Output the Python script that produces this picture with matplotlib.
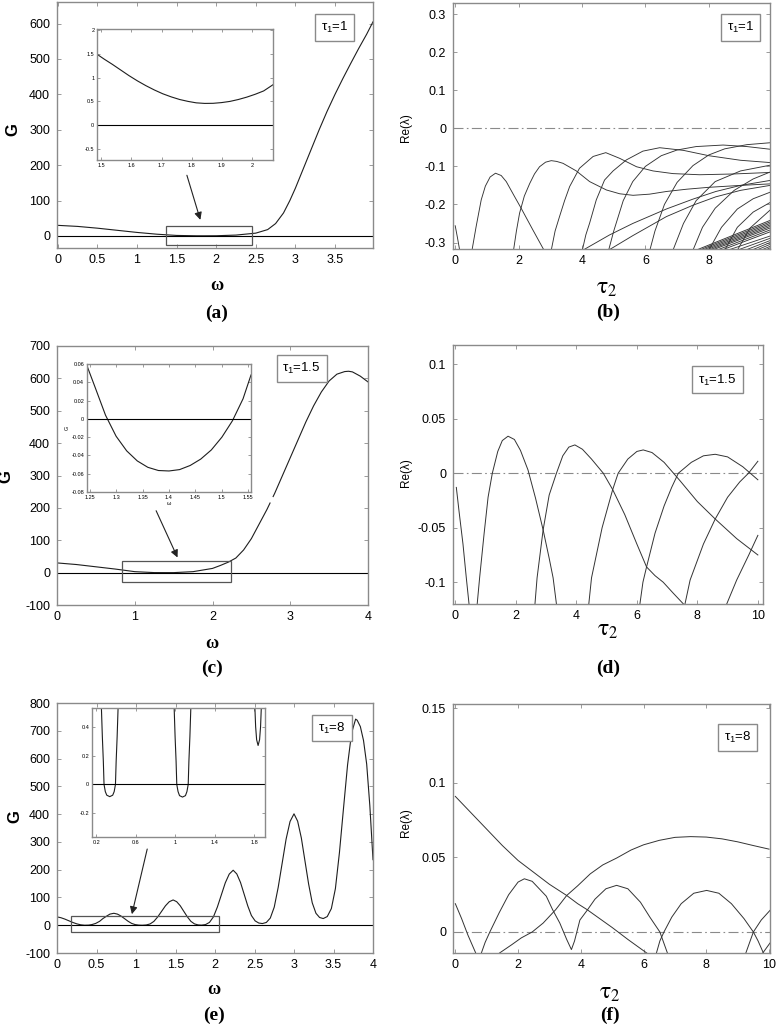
import numpy as np
import matplotlib.pyplot as plt
from matplotlib.patches import Rectangle
from matplotlib.ticker import FuncFormatter

plt.rcParams['font.family'] = ['Liberation Sans', 'DejaVu Sans']
plt.rcParams['axes.unicode_minus'] = False
plt.rcParams['mathtext.fontset'] = 'custom'
plt.rcParams['mathtext.rm'] = 'Liberation Sans'
plt.rcParams['mathtext.it'] = 'Liberation Sans:italic'

W, H = 777, 1030

# ---------------- data ----------------
# (a) tau1 = 1
a_w = [0, 0.25, 0.5, 0.75, 1.0, 1.25, 1.5, 1.75, 1.85, 2.0, 2.25, 2.5, 2.65, 2.75, 2.85,
       2.93, 3.0, 3.1, 3.2, 3.3, 3.4, 3.5, 3.6, 3.7, 3.8, 3.9, 3.98]
a_G = [30, 27, 22, 16, 10, 5, 1.5, 0.5, 0.46, 0.6, 2.5, 8, 18, 35, 65,
       100, 135, 190, 245, 300, 352, 400, 445, 488, 530, 570, 605]
ia_w = [1.4855, 1.51, 1.536, 1.564, 1.592, 1.62, 1.648, 1.676, 1.704, 1.732, 1.760, 1.788,
        1.815, 1.843, 1.871, 1.899, 1.927, 1.955, 1.983, 2.011, 2.039, 2.070]
ia_G = [1.49, 1.385, 1.28, 1.16, 1.04, 0.93, 0.83, 0.74, 0.66, 0.595, 0.54, 0.50,
        0.47, 0.458, 0.46, 0.475, 0.50, 0.54, 0.59, 0.65, 0.72, 0.85]

# (c) tau1 = 1.5
c_w = [0, 0.25, 0.5, 0.75, 1.0, 1.25, 1.5, 1.75, 2.0, 2.1, 2.2, 2.3, 2.4, 2.5, 2.6, 2.7,
       2.74, np.nan, 2.78, 2.8, 2.9, 3.0, 3.1, 3.2, 3.3, 3.4, 3.5, 3.6, 3.7, 3.75, 3.8, 3.9, 4.0]
c_G = [30, 25, 18, 11, 3, 0.1, 0.0, 3, 13, 22, 32, 45, 70, 105, 150, 195,
       215, np.nan, 235, 245, 300, 355, 410, 465, 515, 558, 592, 613, 621, 622, 620, 607, 589]
ic_w = [1.245, 1.26, 1.28, 1.30, 1.32, 1.34, 1.36, 1.38, 1.40, 1.42, 1.44, 1.46, 1.48,
        1.50, 1.52, 1.54, 1.555]
ic_G = [0.058, 0.035, 0.004, -0.019, -0.035, -0.046, -0.053, -0.0565, -0.057, -0.0555,
        -0.051, -0.044, -0.034, -0.020, -0.002, 0.022, 0.048]

# (e) tau1 = 8
e_w = [0, 0.05, 0.1, 0.15, 0.2, 0.25, 0.3, 0.35,
       0.40, 0.44, 0.49, 0.54, 0.58, 0.63, 0.67, 0.72,
       0.765, 0.81, 0.855, 0.90, 0.945, 0.99, 1.035, 1.08,
       1.129, 1.178, 1.226, 1.275, 1.324, 1.373, 1.421, 1.47,
       1.515, 1.56, 1.605, 1.65, 1.695, 1.74, 1.785, 1.83,
       1.88, 1.93, 1.98, 2.03, 2.08, 2.13, 2.18, 2.23,
       2.276, 2.323, 2.369, 2.415, 2.461, 2.508, 2.554, 2.60,
       2.65, 2.70, 2.75, 2.80, 2.85, 2.90, 2.95, 3.00,
       3.046, 3.093, 3.139, 3.185, 3.231, 3.278, 3.324, 3.37,
       3.421, 3.473, 3.524, 3.575, 3.626, 3.678, 3.729, 3.78,
       3.80, 3.84, 3.88, 3.92, 3.96, 4.0]
e_G = [30, 27, 22, 16, 10, 5, 1.5, 0,
       0.4, 2.2, 6.5, 14.2, 23.7, 33.1, 40, 43,
       40, 33.1, 23.7, 14.2, 6.5, 2.2, 0.4, 0,
       0.9, 4.6, 13.7, 30, 50, 70, 84.6, 91,
       84.7, 70.1, 50.0, 30.2, 13.9, 4.8, 1.2, 0.3,
       2.3, 10.2, 30, 65.5, 109, 152.5, 184, 198,
       184.6, 153.8, 111.6, 69.4, 34.8, 15.6, 7.9, 6,
       10, 25.8, 65.3, 136.4, 223, 310, 373.4, 401,
       374.6, 314, 231, 148.4, 80.6, 42.9, 27.8, 24,
       31.2, 60, 131.7, 261, 419, 577, 691.7, 742,
       738, 715, 665, 580, 430, 236]
ie_dips = [
    ([0.245, 0.25, 0.26, 0.27, 0.277, 0.29, 0.305, 0.335, 0.365, 0.38, 0.393, 0.40, 0.41, 0.42, 0.425],
     [0.65, 0.54, 0.33, 0.16, 0.0, -0.05, -0.075, -0.085, -0.075, -0.05, 0.0, 0.16, 0.33, 0.54, 0.65]),
    ([0.983, 0.988, 0.998, 1.008, 1.015, 1.028, 1.043, 1.073, 1.103, 1.118, 1.131, 1.138, 1.148, 1.158, 1.163],
     [0.65, 0.54, 0.33, 0.16, 0.0, -0.05, -0.078, -0.088, -0.078, -0.05, 0.0, 0.16, 0.33, 0.54, 0.65]),
    ([1.80, 1.807, 1.815, 1.825, 1.84, 1.855, 1.865, 1.873, 1.88],
     [0.65, 0.54, 0.40, 0.31, 0.27, 0.31, 0.40, 0.54, 0.65]),
]

# (b) Re(lambda) vs tau2, tau1 = 1
b_curves = [
    [(0.0, -0.256), (0.07, -0.287), (0.14, -0.32)],
    [(0.53, -0.32), (0.66, -0.258), (0.82, -0.188), (0.95, -0.152), (1.10, -0.128), (1.27, -0.118),
     (1.45, -0.124), (1.61, -0.14), (1.87, -0.179), (2.08, -0.21), (2.45, -0.267), (2.8, -0.32)],
    [(1.84, -0.32), (1.93, -0.27), (2.03, -0.223), (2.18, -0.178), (2.35, -0.145), (2.5, -0.12),
     (2.66, -0.101), (2.85, -0.089), (3.03, -0.085), (3.2, -0.087), (3.4, -0.092), (3.82, -0.112),
     (4.24, -0.14), (4.77, -0.162), (5.19, -0.172), (5.61, -0.176), (6.13, -0.173), (6.66, -0.166),
     (7.3, -0.16), (8.0, -0.155), (9.0, -0.15), (9.93, -0.146)],
    [(3.03, -0.32), (3.15, -0.27), (3.29, -0.232), (3.45, -0.19), (3.61, -0.153), (3.92, -0.105),
     (4.35, -0.074), (4.75, -0.064), (5.19, -0.079), (5.72, -0.101), (6.24, -0.112), (6.87, -0.119),
     (7.71, -0.122), (8.77, -0.12), (9.93, -0.116)],
    [(4.01, -0.32), (4.12, -0.28), (4.24, -0.249), (4.45, -0.188), (4.71, -0.136), (4.98, -0.112),
     (5.4, -0.083), (5.92, -0.06), (6.45, -0.051), (7.2, -0.058), (8.0, -0.072), (9.0, -0.084),
     (9.93, -0.09)],
    [(4.84, -0.32), (5.0, -0.27), (5.3, -0.19), (5.6, -0.14), (6.0, -0.1), (6.5, -0.072), (7.0, -0.057),
     (7.6, -0.048), (8.45, -0.044), (9.2, -0.048), (9.93, -0.055)],
    [(6.14, -0.32), (6.3, -0.27), (6.6, -0.2), (7.0, -0.142), (7.5, -0.098), (8.0, -0.07), (8.5, -0.054),
     (9.2, -0.043), (9.93, -0.038)],
    [(6.87, -0.32), (7.2, -0.25), (7.6, -0.19), (8.2, -0.14), (9.0, -0.112), (9.93, -0.097)],
    [(7.5, -0.32), (7.8, -0.26), (8.2, -0.21), (8.8, -0.163), (9.4, -0.133), (9.93, -0.115)],
    [(8.0, -0.32), (8.4, -0.26), (8.9, -0.212), (9.4, -0.185), (9.93, -0.168)],
    [(8.5, -0.32), (8.9, -0.26), (9.4, -0.22), (9.93, -0.195)],
    [(8.9, -0.32), (9.3, -0.262), (9.93, -0.215)],
    [(4.03, -0.32), (4.87, -0.28), (5.6, -0.25), (6.66, -0.212), (7.5, -0.186), (8.22, -0.166),
     (9.0, -0.15), (9.93, -0.137)],
    [(4.84, -0.32), (5.6, -0.282), (6.66, -0.232), (7.5, -0.202), (8.22, -0.18), (9.0, -0.163),
     (9.93, -0.15)],
]
b_band_start = [7.6, 7.7, 7.8, 7.9, 8.0, 8.1, 8.25, 8.4]
b_band_end = [-0.242, -0.246, -0.250, -0.254, -0.258, -0.262, -0.267, -0.272]
b_fan_start = [8.6, 8.9, 9.15, 9.35, 9.5, 9.65, 9.78]
b_fan_end = [-0.283, -0.289, -0.295, -0.300, -0.305, -0.310, -0.314]

# (d) tau1 = 1.5
d_curves = [
    [(0.03, -0.013), (0.12, -0.035), (0.25, -0.065), (0.36, -0.096), (0.45, -0.12)],
    [(0.72, -0.12), (0.80, -0.096), (0.95, -0.055), (1.08, -0.022), (1.22, 0.0), (1.4, 0.02),
     (1.55, 0.030), (1.74, 0.034), (1.95, 0.031), (2.15, 0.021), (2.4, 0.003), (2.65, -0.023),
     (2.9, -0.052), (3.1, -0.078), (3.23, -0.096), (3.34, -0.12)],
    [(2.63, -0.12), (2.70, -0.096), (2.9, -0.052), (3.1, -0.02), (3.34, 0.0), (3.55, 0.016),
     (3.75, 0.024), (3.95, 0.026), (4.2, 0.022), (4.5, 0.013), (4.89, 0.0), (5.2, -0.015),
     (5.6, -0.038), (6.0, -0.065), (6.32, -0.086), (6.6, -0.094), (6.87, -0.1), (7.2, -0.11),
     (7.54, -0.12)],
    [(4.41, -0.12), (4.5, -0.096), (4.85, -0.05), (5.2, -0.015), (5.38, 0.0), (5.7, 0.013),
     (6.0, 0.02), (6.21, 0.0214), (6.5, 0.019), (6.9, 0.01), (7.43, -0.007), (8.0, -0.026),
     (8.59, -0.042), (9.3, -0.06), (10.0, -0.075)],
    [(6.1, -0.12), (6.2, -0.1), (6.32, -0.086), (6.6, -0.055), (6.9, -0.03), (7.15, -0.013),
     (7.37, 0.0), (7.8, 0.01), (8.2, 0.016), (8.59, 0.0174), (9.0, 0.015), (9.5, 0.006), (10.0, -0.006)],
    [(7.59, -0.12), (7.76, -0.098), (8.2, -0.065), (8.59, -0.042), (9.0, -0.022), (9.4, -0.008),
     (9.69, 0.0), (10.0, 0.011)],
    [(8.97, -0.12), (9.3, -0.098), (9.7, -0.075), (10.0, -0.057)],
]

# (f) tau1 = 8
f_curves = [
    [(0.0, 0.091), (0.5, 0.08), (1.0, 0.069), (1.5, 0.058), (2.0, 0.048), (2.5, 0.04), (3.0, 0.032),
     (3.55, 0.0245), (3.9, 0.019), (4.2, 0.015), (4.6, 0.009), (5.0, 0.003), (5.5, -0.005), (6.1, -0.0141)],
    [(1.41, -0.0141), (1.8, -0.0085), (2.1, -0.004), (2.45, 0.0), (2.8, 0.006), (3.2, 0.015),
     (3.55, 0.0245), (3.9, 0.031), (4.3, 0.039), (4.7, 0.045), (5.14, 0.0496), (5.6, 0.055),
     (6.0, 0.0585), (6.5, 0.0615), (7.0, 0.0635), (7.5, 0.064), (8.0, 0.0637), (8.5, 0.0625),
     (9.0, 0.0605), (9.5, 0.058), (10.0, 0.0556)],
    [(0.0, 0.019), (0.2, 0.009), (0.4, -0.002), (0.65, -0.0141)],
    [(0.83, -0.0141), (0.95, -0.007), (1.1, 0.0), (1.4, 0.013), (1.7, 0.025), (2.0, 0.0335),
     (2.2, 0.0357), (2.45, 0.034), (2.9, 0.024), (3.1, 0.015), (3.33, 0.006), (3.55, -0.005),
     (3.7, -0.0118), (3.8, -0.006), (3.97, 0.008), (4.2, 0.0145), (4.45, 0.022), (4.8, 0.029),
     (5.14, 0.0313), (5.5, 0.029), (5.9, 0.02), (6.2, 0.01), (6.52, 0.0), (6.76, -0.0141)],
    [(6.41, -0.0141), (6.52, -0.006), (6.65, 0.0), (6.9, 0.01), (7.2, 0.019), (7.6, 0.026),
     (8.01, 0.0279), (8.4, 0.026), (8.8, 0.019), (9.2, 0.009), (9.5, 0.0), (9.65, -0.006), (9.82, -0.0141)],
    [(9.26, -0.0141), (9.5, 0.0), (9.75, 0.008), (10.03, 0.0145)],
    [(9.8, -0.0141), (10.03, -0.0074)],
]

# annotation geometry (data coords): zoom box and arrow (start, end)
a_box = (1.36, -25, 1.09, 54)
a_arrow = ((1.62, 179), (1.81, 38))
c_box = (0.83, -30, 1.41, 66)
c_arrow = ((1.26, 199), (1.565, 39))
e_box = (0.18, -24, 1.87, 56)
e_arrow = ((1.15, 284), (0.94, 30))

FRAME = '#8a8a8a'
LINE = '#1e1e1e'
fmt = FuncFormatter(lambda v, p: f'{v:g}')

fig = plt.figure(figsize=(W / 100, H / 100), dpi=100)


def px_axes(l, t, r, b):
    return fig.add_axes([l / W, 1 - b / H, (r - l) / W, (b - t) / H])


def style(ax, size=9, length=3, xpad=4, ypad=5):
    for s in ax.spines.values():
        s.set_color(FRAME)
        s.set_linewidth(1.0)
    ax.tick_params(direction='in', top=True, right=True, length=length, width=0.6,
                   color=FRAME, labelsize=size)
    ax.tick_params(axis='x', pad=xpad)
    ax.tick_params(axis='y', pad=ypad)
    ax.xaxis.set_major_formatter(fmt)
    ax.yaxis.set_major_formatter(fmt)


def tau_box(ax, x, y, val):
    ax.text(x, y, r'$\mathregular{\tau_1}$=' + val, transform=ax.transAxes, ha='center',
            va='center', fontsize=9.5, zorder=5,
            bbox=dict(boxstyle='square,pad=0.45', fc='white', ec=FRAME, lw=1.0))


def ftext(x, y, s, **kw):
    fig.text(x / W, 1 - y / H, s, ha='center', va='center', **kw)


def omega_lab(x, y):
    ftext(x, y, 'ω', family='Liberation Serif', fontweight='bold', fontsize=13)


def tau2_lab(x, y):
    ftext(x, y, r'$\mathrm{\tau}_2$', fontsize=17, math_fontfamily='stix')


def panel_lab(x, y, s):
    ftext(x, y, s, family='Liberation Serif', fontweight='bold', fontsize=14)


def zoom_marks(ax, box, arrow):
    x, y, w, h = box
    ax.add_patch(Rectangle((x, y), w, h, fill=False, ec='#555555', lw=0.9, zorder=3))
    ax.annotate('', xy=arrow[1], xytext=arrow[0],
                arrowprops=dict(arrowstyle='-|>', color='#222222', lw=0.8, mutation_scale=11))


def dashdot(ax):
    ax.axhline(0, color='#8a8a8a', lw=0.8, ls=(0, (9, 3, 1.5, 3)))


# ---------------- (a) ----------------
ax = px_axes(57, 2, 373, 248)
ax.plot(a_w, a_G, color=LINE, lw=0.8)
ax.axhline(0, color='k', lw=0.8)
ax.set_xlim(-0.01, 3.98)
ax.set_ylim(-34, 661)
ax.set_xticks(np.arange(0, 3.6, 0.5))
ax.set_yticks(range(0, 601, 100))
style(ax)
zoom_marks(ax, a_box, a_arrow)
tau_box(ax, 0.878, 0.896, '1')

ins = px_axes(97, 29, 273, 160)
ins.plot(ia_w, ia_G, color=LINE, lw=0.8)
ins.axhline(0, color='k', lw=0.8)
ins.set_xlim(1.4855, 2.07)
ins.set_ylim(-0.73, 2.02)
ins.set_xticks([1.5, 1.6, 1.7, 1.8, 1.9, 2.0])
ins.set_yticks([-0.5, 0, 0.5, 1, 1.5, 2])
style(ins, size=4, length=2, xpad=2, ypad=2)

# ---------------- (b) ----------------
ax = px_axes(453, 3, 770, 249)
dashdot(ax)
for cv in b_curves:
    pts = np.array(cv)
    ax.plot(pts[:, 0], pts[:, 1], color='#333333', lw=0.65)
for xs, ye in zip(b_band_start, b_band_end):
    ax.plot([xs, 9.93], [-0.32, ye], color='#333333', lw=0.65)
for xs, ye in zip(b_fan_start, b_fan_end):
    ax.plot([xs, 9.93], [-0.32, ye], color='#333333', lw=0.6)
ax.set_xlim(-0.07, 9.93)
ax.set_ylim(-0.317, 0.329)
ax.set_xticks([0, 2, 4, 6, 8])
ax.set_yticks([-0.3, -0.2, -0.1, 0, 0.1, 0.2, 0.3])
style(ax)
tau_box(ax, 0.907, 0.9, '1')

# ---------------- (c) ----------------
ax = px_axes(57, 346, 368, 605)
ax.plot(c_w, c_G, color=LINE, lw=0.8)
ax.axhline(0, color='k', lw=0.8)
ax.set_xlim(0, 4)
ax.set_ylim(-100, 700)
ax.set_xticks([0, 1, 2, 3, 4])
ax.set_yticks(range(-100, 701, 100))
style(ax)
zoom_marks(ax, c_box, c_arrow)
tau_box(ax, 0.787, 0.915, '1.5')

ins = px_axes(87, 364, 251, 492)
ins.plot(ic_w, ic_G, color=LINE, lw=0.8)
ins.axhline(0, color='k', lw=0.8)
ins.set_xlim(1.245, 1.555)
ins.set_ylim(-0.08, 0.06)
ins.set_xticks([1.25, 1.3, 1.35, 1.4, 1.45, 1.5, 1.55])
ins.set_yticks([-0.08, -0.06, -0.04, -0.02, 0, 0.02, 0.04, 0.06])
style(ins, size=4, length=2, xpad=2, ypad=2)
ins.set_ylabel('G', fontsize=4, labelpad=1)
ins.set_xlabel('ω', fontsize=4, labelpad=1)

# ---------------- (d) ----------------
ax = px_axes(453, 345, 763, 604)
dashdot(ax)
for cv in d_curves:
    pts = np.array(cv)
    ax.plot(pts[:, 0], pts[:, 1], color='#333333', lw=0.7)
ax.set_xlim(-0.08, 10.17)
ax.set_ylim(-0.12, 0.1177)
ax.set_xticks([0, 2, 4, 6, 8, 10])
ax.set_yticks([-0.1, -0.05, 0, 0.05, 0.1])
style(ax)
tau_box(ax, 0.853, 0.865, '1.5')

# ---------------- (e) ----------------
ax = px_axes(57, 703, 373, 953)
ax.plot(e_w, e_G, color=LINE, lw=0.8)
ax.axhline(0, color='k', lw=0.8)
ax.set_xlim(0, 4)
ax.set_ylim(-100, 800)
ax.set_xticks(np.arange(0, 4.01, 0.5))
ax.set_yticks(range(-100, 801, 100))
style(ax)
zoom_marks(ax, e_box, e_arrow)
tau_box(ax, 0.87, 0.9, '8')

ins = px_axes(92, 708, 265, 837)
for xs, ys in ie_dips:
    ins.plot(xs, ys, color=LINE, lw=0.8)
ins.axhline(0, color='k', lw=0.8)
ins.set_xlim(0.155, 1.91)
ins.set_ylim(-0.365, 0.53)
ins.set_xticks([0.2, 0.6, 1.0, 1.4, 1.8])
ins.set_yticks([-0.2, 0, 0.2, 0.4])
style(ins, size=4, length=2, xpad=2, ypad=2)

# ---------------- (f) ----------------
ax = px_axes(453, 704, 770, 953)
dashdot(ax)
for cv in f_curves:
    pts = np.array(cv)
    ax.plot(pts[:, 0], pts[:, 1], color='#333333', lw=0.7)
ax.set_xlim(-0.074, 10.03)
ax.set_ylim(-0.0141, 0.153)
ax.set_xticks([0, 2, 4, 6, 8, 10])
ax.set_yticks([0, 0.05, 0.1, 0.15])
style(ax)
tau_box(ax, 0.897, 0.867, '8')

# ---------------- axis labels and panel letters ----------------
ftext(13, 130, 'G', fontweight='bold', fontsize=12, rotation=90)
ftext(6, 477, 'G', fontweight='bold', fontsize=12, rotation=90)
ftext(15, 817, 'G', fontweight='bold', fontsize=12, rotation=90)
for y in (128, 473, 823):
    ftext(406, y, 'Re(λ)', fontsize=8.5, rotation=90)

omega_lab(217, 285)
omega_lab(212, 643)
omega_lab(214, 990)
tau2_lab(607, 288)
tau2_lab(608, 630)
tau2_lab(610, 993)
panel_lab(217, 313, '(a)')
panel_lab(608, 312, '(b)')
panel_lab(212, 668, '(c)')
panel_lab(608, 668, '(d)')
panel_lab(214, 1015, '(e)')
panel_lab(610, 1015, '(f)')

fig.savefig('out.png', dpi=100)
